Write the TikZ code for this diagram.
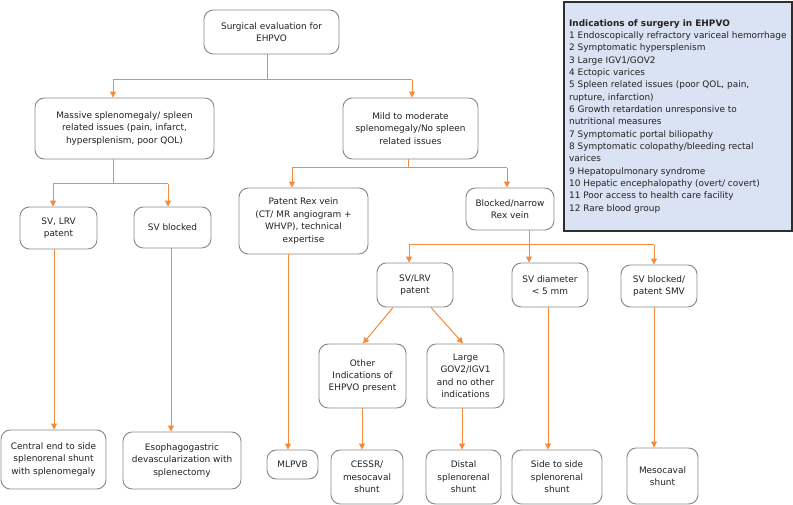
\documentclass[tikz,border=0pt]{standalone}
\usepackage{fontspec}
\setmainfont{DejaVu Sans}
\usetikzlibrary{arrows.meta,calc}
\definecolor{arrorange}{HTML}{F58A3C}
\definecolor{boxgray}{HTML}{8A8A8A}
\definecolor{indfill}{HTML}{DAE3F3}
\definecolor{inddraw}{HTML}{2E2E2E}
\definecolor{txt}{HTML}{222222}
\begin{document}
\begin{tikzpicture}[x=0.75pt,y=-0.75pt,
 box/.style={draw=boxgray, line width=0.7pt, rounded corners=7pt, align=center,
   font=\fontsize{6.7}{9.3}\selectfont, text=txt, inner sep=1pt, fill=white},
 sz/.style 2 args={minimum width=#1*0.75pt, minimum height=#2*0.75pt},
 ln/.style={draw=arrorange, line width=0.75pt},
 arr/.style={ln, -{Triangle[length=4.5pt,width=4.5pt]}},
]
\useasboundingbox (0,0) rectangle (793,505);

\node[box,sz={135}{44}] (top) at (271.5,32) {Surgical evaluation for\\EHPVO};
\node[box,sz={179}{61}] (mass) at (124.5,128.5) {Massive splenomegaly/ spleen\\related issues (pain, infarct,\\hypersplenism, poor QOL)};
\node[box,sz={135}{61}] (mild) at (410.5,128.5) {Mild to moderate\\splenomegaly/No spleen\\related issues};
\node[box,sz={77}{42}] (svlrv) at (58.5,228) {SV, LRV\\patent};
\node[box,sz={77}{41}] (svb) at (172.5,227.5) {SV blocked};
\node[box,sz={129}{66}] (rex) at (303.5,221) {Patent Rex vein\\(CT/ MR angiogram +\\WHVP), technical\\expertise};
\node[box,sz={88}{42}] (blk) at (510,209) {Blocked/narrow\\Rex vein};
\node[box,sz={76}{44}] (svlrv2) at (415,285) {SV/LRV\\patent};
\node[box,sz={76}{44}] (svd) at (550,285) {SV diameter\\< 5 mm};
\node[box,sz={76}{42}] (svbs) at (659,286) {SV blocked/\\patent SMV};
\node[box,sz={87}{64}] (other) at (362.5,376) {Other\\Indications of\\EHPVO present};
\node[box,sz={77}{64}] (large) at (465.5,376) {Large\\GOV2/IGV1\\and no other\\indications};
\node[box,sz={105}{59}] (central) at (53.5,459.5) {Central end to side\\splenorenal shunt\\with splenomegaly};
\node[box,sz={118}{57}] (eso) at (182,460.5) {Esophagogastric\\devascularization with\\splenectomy};
\node[box,sz={51}{29}] (mlpvb) at (292.5,464.5) {MLPVB};
\node[box,sz={72}{54}] (cessr) at (367,477) {CESSR/\\mesocaval\\shunt};
\node[box,sz={75}{54}] (distal) at (463.5,477) {Distal\\splenorenal\\shunt};
\node[box,sz={90}{54}] (side) at (557,477) {Side to side\\splenorenal\\shunt};
\node[box,sz={71}{56}] (meso) at (662.5,476) {Mesocaval\\shunt};

\node[draw=inddraw, line width=1.2pt, fill=indfill, anchor=north west,
  minimum width=228*0.75pt, minimum height=229*0.75pt, align=left, inner sep=0pt,
  font=\fontsize{6.7}{9.25}\selectfont, text=txt] (ind) at (563,1)
 {\textbf{Indications of surgery in EHPVO}\\
  1 Endoscopically refractory variceal hemorrhage\\
  2 Symptomatic hypersplenism\\
  3 Large IGV1/GOV2\\
  4 Ectopic varices\\
  5 Spleen related issues (poor QOL, pain,\\
  rupture, infarction)\\
  6 Growth retardation unresponsive to\\
  nutritional measures\\
  7 Symptomatic portal biliopathy\\
  8 Symptomatic colopathy/bleeding rectal\\
  varices\\
  9 Hepatopulmonary syndrome\\
  10 Hepatic encephalopathy (overt/ covert)\\
  11 Poor access to health care facility\\
  12 Rare blood group};

% junction coordinates
\coordinate (j1) at (267,80);
\coordinate (j1a) at (113,80);
\coordinate (j1b) at (412,80);
\coordinate (j2) at (113,184);
\coordinate (j2a) at (53,184);
\coordinate (j2b) at (168,184);
\coordinate (j3) at (408,168);
\coordinate (j3a) at (292,168);
\coordinate (j3b) at (507,168);
\coordinate (j4) at (529,245);
\coordinate (j4a) at (409,245);
\coordinate (j4c) at (654,245);
\coordinate (c1) at (54,0);
\coordinate (c2) at (171,0);
\coordinate (c3) at (288,0);
\coordinate (c4) at (362,0);
\coordinate (c5) at (462,0);
\coordinate (c6) at (548,0);
\coordinate (c7) at (654,0);
\coordinate (d1) at (393,0);
\coordinate (d2) at (431,0);
\coordinate (e1) at (363,0);
\coordinate (e2) at (463,0);

\draw[ln] (top.south -| j1) -- (j1);
\draw[ln] (j1a) -- (j1b);
\draw[arr] (j1a) -- (j1a |- mass.north);
\draw[arr] (j1b) -- (j1b |- mild.north);

\draw[ln] (mass.south -| j2) -- (j2);
\draw[ln] (j2a) -- (j2b);
\draw[arr] (j2a) -- (j2a |- svlrv.north);
\draw[arr] (j2b) -- (j2b |- svb.north);

\draw[ln] (mild.south -| j3) -- (j3);
\draw[ln] (j3a) -- (j3b);
\draw[arr] (j3a) -- (j3a |- rex.north);
\draw[arr] (j3b) -- (j3b |- blk.north);

\draw[ln] (blk.south -| j4) -- (j4);
\draw[ln] (j4a) -- (j4c);
\draw[arr] (j4a) -- (j4a |- svlrv2.north);
\draw[arr] (j4) -- (j4 |- svd.north);
\draw[arr] (j4c) -- (j4c |- svbs.north);

\draw[arr] (svlrv2.south -| d1) -- (other.north -| e1);
\draw[arr] (svlrv2.south -| d2) -- (large.north -| e2);

\draw[arr] (svlrv.south -| c1) -- (central.north -| c1);
\draw[arr] (svb.south -| c2) -- (eso.north -| c2);
\draw[arr] (rex.south -| c3) -- (mlpvb.north -| c3);
\draw[arr] (other.south -| c4) -- (cessr.north -| c4);
\draw[arr] (large.south -| c5) -- (distal.north -| c5);
\draw[arr] (svd.south -| c6) -- (side.north -| c6);
\draw[arr] (svbs.south -| c7) -- (meso.north -| c7);
\end{tikzpicture}
\end{document}
